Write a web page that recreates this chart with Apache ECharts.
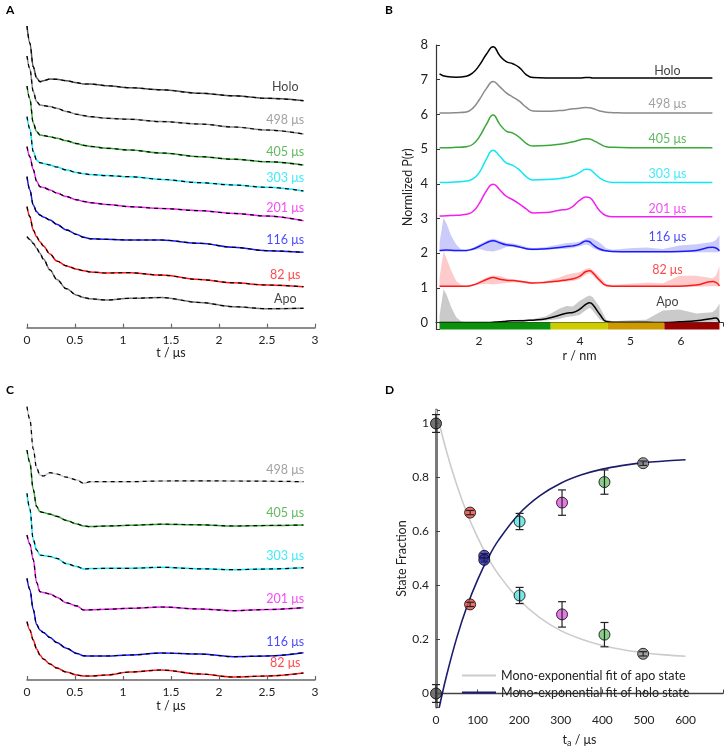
<!DOCTYPE html>
<html><head><meta charset="utf-8">
<script src="https://cdn.jsdelivr.net/npm/echarts@6/dist/echarts.min.js"></script>
<style>html,body{margin:0;padding:0;background:#fff}#c{width:726px;height:749px}</style>
</head><body><div id="c"></div>
<script>
// ---------- Panel A : DEER traces (stacked, arbitrary offset units) ----------
const tA = [0, 0.03, 0.065, 0.10, 0.135, 0.17, 0.24, 0.31, 0.41, 0.52, 0.59, 0.66, 0.83, 1.07, 1.4, 1.8, 2.15, 2.5, 2.88];
const aHolo = [3.017, 2.847, 2.610, 2.497, 2.460, 2.470, 2.487, 2.484, 2.470, 2.450, 2.437, 2.437, 2.420, 2.400, 2.379, 2.344, 2.319, 2.294, 2.270];
const a498  = [2.717, 2.587, 2.362, 2.262, 2.227, 2.222, 2.211, 2.194, 2.162, 2.134, 2.121, 2.110, 2.094, 2.084, 2.061, 2.037, 2.007, 1.977, 1.937];
const a405  = [2.417, 2.287, 2.047, 1.962, 1.927, 1.922, 1.910, 1.895, 1.869, 1.841, 1.824, 1.813, 1.794, 1.777, 1.747, 1.710, 1.685, 1.660, 1.627];
const a303  = [2.110, 1.987, 1.762, 1.677, 1.650, 1.643, 1.627, 1.607, 1.578, 1.552, 1.539, 1.531, 1.521, 1.510, 1.483, 1.450, 1.427, 1.404, 1.367];
const a201  = [1.810, 1.709, 1.581, 1.464, 1.410, 1.402, 1.377, 1.347, 1.311, 1.279, 1.263, 1.250, 1.232, 1.210, 1.192, 1.170, 1.143, 1.117, 1.070];
const a116  = [1.510, 1.377, 1.227, 1.160, 1.127, 1.107, 1.077, 1.034, 0.978, 0.932, 0.904, 0.889, 0.884, 0.877, 0.877, 0.844, 0.804, 0.770, 0.754];
const a82   = [1.210, 1.110, 0.977, 0.910, 0.860, 0.817, 0.737, 0.667, 0.618, 0.585, 0.570, 0.558, 0.547, 0.550, 0.526, 0.482, 0.449, 0.427, 0.410];
const aApo  = [0.910, 0.881, 0.844, 0.795, 0.744, 0.686, 0.577, 0.483, 0.390, 0.325, 0.301, 0.289, 0.277, 0.294, 0.302, 0.252, 0.210, 0.190, 0.194];
const labelsA = ['Holo', '498 μs', '405 μs', '303 μs', '201 μs', '116 μs', '82 μs', 'Apo'];
const labelYA = [2.407, 2.077, 1.760, 1.494, 1.194, 0.877, 0.527, 0.287];
const labelTA = 2.69;
const colorsA = ['#555555', '#8a8a8a', '#3aa83a', '#10e6f5', '#f020f0', '#1a1aff', '#ff1a1a', '#777777'];
const textColorsA = ['#111111', '#8a8a8a', '#3aa83a', '#10e6f5', '#f020f0', '#1a1aff', '#ff1a1a', '#111111'];

// ---------- Panel B : distance distributions ----------
const rB = [1.22, 1.36, 1.55, 1.75, 1.88, 2.01, 2.15, 2.28, 2.41, 2.54, 2.67, 2.80, 2.94, 3.07, 3.33, 3.59, 3.73, 3.86, 3.99, 4.12, 4.19, 4.25, 4.39, 4.52, 4.65, 4.98, 5.31, 5.64, 5.97, 6.30, 6.62, 6.69, 6.76];
const bHolo = [7.17, 7.09, 7.07, 7.10, 7.20, 7.42, 7.74, 7.95, 7.70, 7.52, 7.46, 7.35, 7.14, 7.06, 7.05, 7.05, 7.05, 7.05, 7.05, 7.06, 7.06, 7.05, 7.05, 7.05, 7.05, 7.05, 7.05, 7.05, 7.05, 7.05, 7.05];
const b498  = [6.04, 6.04, 6.05, 6.07, 6.18, 6.43, 6.75, 6.95, 6.80, 6.62, 6.50, 6.38, 6.20, 6.10, 6.09, 6.11, 6.13, 6.16, 6.18, 6.20, 6.19, 6.17, 6.10, 6.06, 6.05, 6.04, 6.04, 6.04, 6.04, 6.04, 6.04];
const b405  = [5.04, 5.04, 5.05, 5.07, 5.14, 5.36, 5.72, 5.98, 5.72, 5.52, 5.46, 5.34, 5.16, 5.09, 5.10, 5.14, 5.17, 5.21, 5.26, 5.30, 5.29, 5.26, 5.15, 5.07, 5.05, 5.04, 5.04, 5.04, 5.04, 5.04, 5.04];
const b303  = [4.04, 4.04, 4.05, 4.08, 4.14, 4.33, 4.72, 4.97, 4.80, 4.60, 4.53, 4.40, 4.20, 4.11, 4.12, 4.15, 4.18, 4.23, 4.32, 4.42, 4.41, 4.35, 4.17, 4.07, 4.04, 4.04, 4.04, 4.04, 4.04, 4.04, 4.04];
const b201  = [3.07, 3.08, 3.09, 3.12, 3.20, 3.44, 3.80, 3.99, 3.83, 3.64, 3.54, 3.42, 3.27, 3.16, 3.17, 3.24, 3.26, 3.35, 3.52, 3.62, 3.60, 3.52, 3.22, 3.08, 3.05, 3.05, 3.05, 3.05, 3.05, 3.05, 3.05];
const b116  = [2.08, 2.09, 2.08, 2.08, 2.12, 2.20, 2.30, 2.36, 2.30, 2.24, 2.22, 2.18, 2.13, 2.11, 2.13, 2.16, 2.19, 2.21, 2.26, 2.35, 2.33, 2.25, 2.12, 2.07, 2.05, 2.04, 2.04, 2.04, 2.05, 2.08, 2.17, 2.15, 2.07];
const b82   = [1.05, 1.05, 1.05, 1.05, 1.08, 1.15, 1.24, 1.30, 1.25, 1.22, 1.21, 1.19, 1.16, 1.14, 1.16, 1.20, 1.23, 1.26, 1.33, 1.47, 1.49, 1.44, 1.22, 1.07, 1.05, 1.05, 1.05, 1.05, 1.05, 1.08, 1.18, 1.16, 1.06];
const bApo  = [0.00, 0.00, 0.00, 0.00, 0.00, 0.00, 0.00, 0.01, 0.02, 0.04, 0.05, 0.05, 0.06, 0.07, 0.11, 0.21, 0.27, 0.29, 0.38, 0.53, 0.57, 0.52, 0.24, 0.03, 0.01, 0.01, 0.01, 0.00, 0.02, 0.05, 0.12, 0.13, 0.00];
const rBand = [1.22, 1.30, 1.36, 1.45, 1.55, 1.65, 1.75, 1.88, 2.01, 2.15, 2.28, 2.41, 2.54, 2.67, 2.80, 2.94, 3.07, 3.33, 3.59, 3.73, 3.86, 3.99, 4.12, 4.19, 4.25, 4.39, 4.52, 4.65, 4.98, 5.31, 5.64, 5.97, 6.30, 6.62, 6.69, 6.76];
const b116Hi = [2.30, 3.02, 2.85, 2.50, 2.25, 2.10, 2.09, 2.15, 2.26, 2.36, 2.42, 2.36, 2.30, 2.28, 2.24, 2.18, 2.14, 2.18, 2.25, 2.29, 2.30, 2.33, 2.42, 2.45, 2.42, 2.30, 2.14, 2.10, 2.14, 2.16, 2.12, 2.22, 2.26, 2.32, 2.38, 2.52];
const b116Lo = [2.05, 2.05, 2.05, 2.05, 2.05, 2.05, 2.05, 2.08, 2.12, 2.06, 2.05, 2.10, 2.18, 2.18, 2.15, 2.10, 2.08, 2.10, 2.12, 2.13, 2.15, 2.20, 2.25, 2.22, 2.15, 2.06, 2.04, 2.03, 2.03, 2.03, 2.03, 2.03, 2.03, 2.03, 2.03, 2.03];
const b82Hi  = [1.30, 2.04, 1.85, 1.50, 1.20, 1.08, 1.06, 1.10, 1.20, 1.30, 1.36, 1.34, 1.28, 1.25, 1.22, 1.19, 1.17, 1.20, 1.30, 1.38, 1.42, 1.45, 1.55, 1.57, 1.52, 1.32, 1.12, 1.08, 1.12, 1.15, 1.13, 1.35, 1.35, 1.28, 1.35, 1.62];
const b82Lo  = [1.04, 1.04, 1.04, 1.04, 1.04, 1.04, 1.04, 1.06, 1.10, 1.12, 1.10, 1.12, 1.14, 1.16, 1.15, 1.12, 1.11, 1.13, 1.16, 1.18, 1.20, 1.25, 1.38, 1.42, 1.36, 1.15, 1.04, 1.03, 1.03, 1.03, 1.03, 1.03, 1.03, 1.05, 1.05, 1.04];
const bApoHi = [0.20, 0.96, 0.80, 0.45, 0.15, 0.03, 0.01, 0.01, 0.01, 0.01, 0.02, 0.03, 0.05, 0.07, 0.08, 0.09, 0.10, 0.18, 0.40, 0.48, 0.46, 0.62, 0.74, 0.78, 0.74, 0.45, 0.08, 0.04, 0.07, 0.08, 0.35, 0.38, 0.26, 0.30, 0.38, 0.55];
const bApoLo = [0.00, 0.00, 0.00, 0.00, 0.00, 0.00, 0.00, 0.00, 0.00, 0.00, 0.00, 0.01, 0.02, 0.03, 0.03, 0.04, 0.05, 0.06, 0.10, 0.16, 0.18, 0.22, 0.36, 0.43, 0.35, 0.08, 0.00, 0.00, 0.00, 0.00, 0.00, 0.00, 0.00, 0.02, 0.03, 0.00];
const labelsB = ['Holo', '498 μs', '405 μs', '303 μs', '201 μs', '116 μs', '82 μs', 'Apo'];
const labelYB = [7.25, 6.29, 5.28, 4.27, 3.26, 2.46, 1.53, 0.60];
const labelRB = 5.73;
const colorsB = ['#000000', '#8a8a8a', '#3aa83a', '#10e6f5', '#f020f0', '#1a1aff', '#ff1a1a', '#000000'];
const textColorsB = ['#111111', '#8a8a8a', '#3aa83a', '#10e6f5', '#f020f0', '#1a1aff', '#ff1a1a', '#111111'];
const zoneStart = [1.22, 3.42, 4.55, 5.67];
const zoneEnd   = [3.42, 4.55, 5.67, 6.76];
const zoneColors = ['#0a920a', '#cccc00', '#cc9900', '#990000'];

// ---------- Panel C : background-corrected form factors ----------
const tC = tA;
const c498 = [2.733, 2.605, 2.310, 2.120, 2.050, 2.040, 2.073, 2.060, 2.028, 2.000, 1.967, 1.983, 1.983, 1.983, 1.990, 1.992, 1.990, 1.988, 1.983];
const c405 = [2.300, 2.175, 1.905, 1.735, 1.683, 1.675, 1.658, 1.637, 1.596, 1.560, 1.540, 1.534, 1.540, 1.547, 1.558, 1.552, 1.540, 1.545, 1.550];
const c303 = [1.867, 1.710, 1.405, 1.300, 1.250, 1.245, 1.235, 1.216, 1.163, 1.135, 1.110, 1.114, 1.117, 1.117, 1.127, 1.112, 1.103, 1.110, 1.123];
const c201 = [1.450, 1.360, 1.205, 0.975, 0.883, 0.875, 0.860, 0.828, 0.772, 0.741, 0.700, 0.702, 0.707, 0.717, 0.730, 0.710, 0.693, 0.705, 0.723];
const c116 = [1.017, 0.905, 0.705, 0.555, 0.500, 0.475, 0.425, 0.375, 0.318, 0.265, 0.242, 0.240, 0.240, 0.250, 0.270, 0.260, 0.233, 0.240, 0.273];
const c82  = [0.583, 0.500, 0.400, 0.310, 0.250, 0.210, 0.160, 0.120, 0.080, 0.050, 0.040, 0.040, 0.050, 0.080, 0.100, 0.060, 0.030, 0.040, 0.070];
const labelsC = ['498 μs', '405 μs', '303 μs', '201 μs', '116 μs', '82 μs'];
const labelYC = [2.10, 1.667, 1.24, 0.815, 0.377, 0.175];
const colorsC = ['#c8c8c8', '#3aa83a', '#10e6f5', '#f020f0', '#1a1aff', '#ff1a1a'];
const textColorsC = ['#8a8a8a', '#3aa83a', '#10e6f5', '#f020f0', '#1a1aff', '#ff1a1a'];

// ---------- Panel D : state fractions ----------
const tD = [0, 82, 116, 201, 303, 405, 498];
const apoFrac = [1.00, 0.670, 0.510, 0.363, 0.293, 0.218, 0.147];
const apoErr  = [0.033, 0.008, 0.008, 0.030, 0.047, 0.045, 0.008];
const holoFrac = [0.00, 0.330, 0.495, 0.637, 0.707, 0.783, 0.853];
const holoErr  = [0.033, 0.008, 0.008, 0.030, 0.047, 0.045, 0.008];
const pointColors = ['#505050', '#ee4c44', '#2a2ad0', '#58dede', '#de58de', '#6cc06c', '#8c8c8c'];
const tApoFit = [0, 25, 50, 75, 100, 125, 150, 200, 250, 300, 350, 400, 450, 500, 550, 600];
const apoFit  = [1.05, 0.898, 0.772, 0.666, 0.578, 0.503, 0.442, 0.347, 0.280, 0.233, 0.201, 0.178, 0.162, 0.151, 0.143, 0.138];
const tHoloFit = [8, 25, 50, 75, 100, 125, 150, 200, 250, 300, 350, 400, 450, 500, 550, 600];
const holoFit  = [-0.05, 0.064, 0.207, 0.325, 0.421, 0.501, 0.567, 0.666, 0.733, 0.779, 0.810, 0.831, 0.845, 0.855, 0.861, 0.866];
const fitNames = ['Mono-exponential fit of apo state', 'Mono-exponential fit of holo state'];

// ---------- build ----------
const FONT = 'Lato, "Open Sans", sans-serif';
const zip = (xs, ys) => ys.map((y, i) => [xs[i], y]);
const series = [];

function traceSeries(ax, xs, vals, color) {
  series.push({type: 'line', xAxisIndex: ax, yAxisIndex: ax, data: zip(xs, vals), smooth: 0.35, smoothMonotone: 'x',
    symbol: 'none', silent: true, z: 2, lineStyle: {color: color, width: 1.5}});
  series.push({type: 'line', xAxisIndex: ax, yAxisIndex: ax, data: zip(xs, vals), smooth: 0.35, smoothMonotone: 'x',
    symbol: 'none', silent: true, z: 3, lineStyle: {color: '#000', width: 1.2, type: [4, 4]}});
}
function labelSeries(ax, xs, ys, texts, colors) {
  series.push({type: 'scatter', xAxisIndex: ax, yAxisIndex: ax, symbolSize: 1, silent: true, z: 5,
    itemStyle: {color: 'rgba(0,0,0,0)'},
    data: texts.map((t, i) => ({value: [Array.isArray(xs) ? xs[i] : xs, ys[i]], name: t,
      label: {color: colors[i]}})),
    label: {show: true, position: 'inside', formatter: '{b}', fontSize: 12.5, fontFamily: FONT}});
}

// A
[aHolo, a498, a405, a303, a201, a116, a82, aApo].forEach((v, i) => traceSeries(0, tA, v, colorsA[i]));
labelSeries(0, labelTA, labelYA, labelsA, textColorsA);

// B bands
function band(lo, hi, color) {
  series.push({type: 'custom', xAxisIndex: 1, yAxisIndex: 1, silent: true, z: 1, clip: true,
    data: [[rBand[0], lo[0]]],
    renderItem: (p, api) => {
      const pts = [];
      for (let i = 0; i < rBand.length; i++) pts.push(api.coord([rBand[i], hi[i]]));
      for (let i = rBand.length - 1; i >= 0; i--) pts.push(api.coord([rBand[i], lo[i]]));
      return {type: 'polygon', shape: {points: pts}, style: {fill: color}};
    }});
}
band(b116Lo, b116Hi, 'rgba(140,140,245,0.45)');
band(b82Lo, b82Hi, 'rgba(250,140,140,0.45)');
band(bApoLo, bApoHi, 'rgba(150,150,150,0.5)');
[bHolo, b498, b405, b303, b201, b116, b82, bApo].forEach((v, i) => {
  series.push({type: 'line', xAxisIndex: 1, yAxisIndex: 1, data: zip(rB, v), smooth: 0.5,
    symbol: 'none', silent: true, z: 3, lineStyle: {color: colorsB[i], width: 1.5}});
});
series.push({type: 'custom', xAxisIndex: 1, yAxisIndex: 1, silent: true, z: 4, clip: false,
  data: zoneStart.map((s, i) => [s, zoneEnd[i]]),
  renderItem: (p, api) => {
    const i = p.dataIndex;
    const a = api.coord([zoneStart[i], 0]);
    const b = api.coord([zoneEnd[i], -0.2]);
    return {type: 'rect', shape: {x: a[0], y: a[1], width: b[0] - a[0], height: b[1] - a[1]}, style: {fill: zoneColors[i]}};
  }});
labelSeries(1, labelRB, labelYB, labelsB, textColorsB);

// C
[c498, c405, c303, c201, c116, c82].forEach((v, i) => traceSeries(2, tC, v, colorsC[i]));
labelSeries(2, labelTA, labelYC, labelsC, textColorsC);

// D
series.push({name: fitNames[0], type: 'line', xAxisIndex: 3, yAxisIndex: 3, data: zip(tApoFit, apoFit), smooth: 0.4,
  symbol: 'none', silent: true, z: 2, lineStyle: {color: '#cccccc', width: 1.6}, itemStyle: {color: '#cccccc'}});
series.push({name: fitNames[1], type: 'line', xAxisIndex: 3, yAxisIndex: 3, data: zip(tHoloFit, holoFit), smooth: 0.4,
  symbol: 'none', silent: true, z: 2, lineStyle: {color: '#1c1c6c', width: 1.6}, itemStyle: {color: '#1c1c6c'}});
function points(vals) {
  series.push({type: 'scatter', xAxisIndex: 3, yAxisIndex: 3, symbolSize: 11, silent: true, z: 4,
    data: tD.map((t, i) => ({value: [t, vals[i]], itemStyle: {color: pointColors[i]}})),
    itemStyle: {borderColor: '#000', borderWidth: 1}});
}
function errbars(vals, errs) {
  series.push({type: 'custom', xAxisIndex: 3, yAxisIndex: 3, silent: true, z: 5, clip: false,
    data: tD.map((t, i) => [t, vals[i] - errs[i], vals[i] + errs[i]]),
    renderItem: (p, api) => {
      const lo = api.coord([api.value(0), api.value(1)]);
      const hi = api.coord([api.value(0), api.value(2)]);
      const w = 4;
      const st = {stroke: '#222', lineWidth: 1.2};
      return {type: 'group', children: [
        {type: 'line', shape: {x1: lo[0], y1: lo[1], x2: hi[0], y2: hi[1]}, style: st},
        {type: 'line', shape: {x1: lo[0] - w, y1: lo[1], x2: lo[0] + w, y2: lo[1]}, style: st},
        {type: 'line', shape: {x1: hi[0] - w, y1: hi[1], x2: hi[0] + w, y2: hi[1]}, style: st}
      ]};
    }});
}
points(apoFrac); points(holoFrac);
errbars(apoFrac, apoErr); errbars(holoFrac, holoErr);

const axisLabelStyle = {color: '#222', fontSize: 12, fontFamily: FONT};
const nameStyle = {color: '#222', fontSize: 12.5, fontFamily: FONT};
function tAxis(grid) {
  return {type: 'value', gridIndex: grid, min: 0, max: 3, interval: 0.5,
    name: 't / μs', nameLocation: 'middle', nameGap: 19, nameTextStyle: nameStyle,
    axisLine: {lineStyle: {color: '#666', width: 1.5}},
    axisTick: {inside: true, length: 4, lineStyle: {color: '#666', width: 1.2}},
    axisLabel: Object.assign({margin: 6}, axisLabelStyle), splitLine: {show: false}};
}
const hiddenY = (grid, max) => ({type: 'value', gridIndex: grid, min: 0, max: max, show: false, splitLine: {show: false}});

const option = {
  animation: false,
  backgroundColor: '#fff',
  textStyle: {fontFamily: FONT},
  grid: [
    {left: 27, top: 17.7, width: 288, height: 310},
    {left: 436, top: 45, width: 287, height: 284.5},
    {left: 27, top: 400, width: 288, height: 280},
    {left: 436, top: 410, width: 288.4, height: 298.3}
  ],
  xAxis: [
    tAxis(0),
    {type: 'value', gridIndex: 1, min: 1.15, max: 6.83, splitNumber: 5,
      name: 'r / nm', nameLocation: 'middle', nameGap: 20, nameTextStyle: nameStyle,
      axisLine: {lineStyle: {color: '#333', width: 1.2}},
      axisTick: {inside: false, length: 4, lineStyle: {color: '#333'}},
      axisLabel: Object.assign({margin: 6, formatter: v => (Math.abs(v - Math.round(v)) < 1e-6 ? String(Math.round(v)) : '')}, axisLabelStyle),
      splitLine: {show: false}},
    tAxis(2),
    {type: 'value', gridIndex: 3, min: 0, max: 690, interval: 100,
      name: 't{s|a} / μs', nameLocation: 'middle', nameGap: 24,
      nameTextStyle: Object.assign({rich: {s: {fontSize: 9, verticalAlign: 'bottom', padding: [8, 0, 0, 0], fontFamily: FONT, color: '#222'}}}, nameStyle),
      axisLine: {lineStyle: {color: '#444', width: 1.3}},
      axisTick: {inside: true, length: 4, lineStyle: {color: '#444'}},
      axisLabel: Object.assign({margin: 7, formatter: v => (v % 100 === 0 ? String(v) : '')}, axisLabelStyle),
      splitLine: {show: false}}
  ],
  yAxis: [
    hiddenY(0, 3.1),
    {type: 'value', gridIndex: 1, min: -0.2, max: 8, splitNumber: 8,
      name: 'Normlized P(r)', nameLocation: 'middle', nameGap: 22, nameTextStyle: nameStyle,
      axisLine: {show: true, lineStyle: {color: '#333', width: 1.2}},
      axisTick: {inside: true, length: 4, lineStyle: {color: '#333'}},
      axisLabel: Object.assign({margin: 8, formatter: v => (Math.abs(v - Math.round(v)) < 1e-6 ? String(Math.round(v)) : '')}, axisLabelStyle, {fontSize: 13}),
      splitLine: {show: false}},
    hiddenY(2, 2.8),
    {type: 'value', gridIndex: 3, min: -0.05, max: 1.05, splitNumber: 5,
      name: 'State Fraction', nameLocation: 'middle', nameGap: 23, nameTextStyle: nameStyle,
      axisLine: {show: true, lineStyle: {color: '#7a7a7a', width: 3}},
      axisTick: {inside: true, length: 4, lineStyle: {color: '#444'}},
      axisLabel: Object.assign({margin: 7, formatter: v => {
        const k = v * 5; return Math.abs(k - Math.round(k)) < 1e-6 ? String(Math.round(k) / 5) : '';
      }}, axisLabelStyle),
      splitLine: {show: false}}
  ],
  legend: {data: fitNames, orient: 'vertical', left: 457, top: 663, icon: 'rect', itemWidth: 34, itemHeight: 2, itemGap: 2,
    textStyle: {fontSize: 12.5, lineHeight: 15, color: '#222', fontFamily: FONT}},
  graphic: [
    {type: 'text', left: 6, top: 4, style: {text: 'A', font: 'bold 12px ' + FONT, fill: '#000'}},
    {type: 'text', left: 385, top: 4, style: {text: 'B', font: 'bold 12px ' + FONT, fill: '#000'}},
    {type: 'text', left: 6, top: 384, style: {text: 'C', font: 'bold 12px ' + FONT, fill: '#000'}},
    {type: 'text', left: 385, top: 384, style: {text: 'D', font: 'bold 12px ' + FONT, fill: '#000'}}
  ],
  series: series
};
echarts.init(document.getElementById('c'), null, {renderer: 'canvas'}).setOption(option);
</script></body></html>
